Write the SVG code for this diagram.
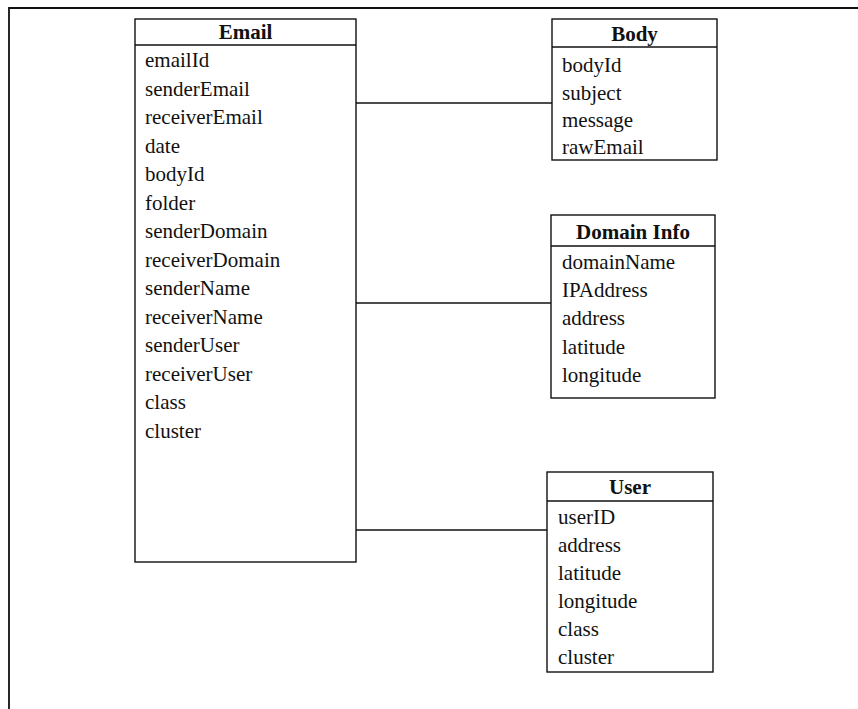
<svg xmlns="http://www.w3.org/2000/svg" width="858" height="709" viewBox="0 0 858 709">
  <style>
    .box { fill: #ffffff; stroke: #111111; stroke-width: 1.4; }
    .sep { stroke: #111111; stroke-width: 1.4; }
    .title { font-family: "Liberation Serif", "Times New Roman", serif; font-size: 21px; font-weight: bold; fill: #111111; text-anchor: middle; }
    .attr { font-family: "Liberation Serif", "Times New Roman", serif; font-size: 21px; fill: #111111; }
    .link { stroke: #111111; stroke-width: 1.4; fill: none; }
    .frame { stroke: #111111; stroke-width: 1.8; fill: none; }
  </style>
  <rect width="858" height="709" fill="#ffffff"/>

  <!-- outer frame (open to the right and bottom) -->
  <polyline class="frame" points="9,712 9,8 860,8"/>

  <!-- relationships -->
  <g id="connectors">
    <line class="link" x1="356" y1="103" x2="552" y2="103"/>
    <line class="link" x1="356" y1="303" x2="551" y2="303"/>
    <line class="link" x1="356" y1="530" x2="547" y2="530"/>
  </g>

  <g id="email">
    <rect class="box" x="135" y="19" width="221" height="543"/>
    <line class="sep" x1="135" y1="45" x2="356" y2="45"/>
    <text class="title" x="245.5" y="39">Email</text>
    <text class="attr" x="145" y="67">emailId</text>
    <text class="attr" x="145" y="95.5">senderEmail</text>
    <text class="attr" x="145" y="124">receiverEmail</text>
    <text class="attr" x="145" y="152.5">date</text>
    <text class="attr" x="145" y="181">bodyId</text>
    <text class="attr" x="145" y="209.5">folder</text>
    <text class="attr" x="145" y="238">senderDomain</text>
    <text class="attr" x="145" y="266.5">receiverDomain</text>
    <text class="attr" x="145" y="295">senderName</text>
    <text class="attr" x="145" y="323.5">receiverName</text>
    <text class="attr" x="145" y="352">senderUser</text>
    <text class="attr" x="145" y="380.5">receiverUser</text>
    <text class="attr" x="145" y="409">class</text>
    <text class="attr" x="145" y="437.5">cluster</text>
  </g>

  <g id="body">
    <rect class="box" x="552" y="19" width="165" height="141"/>
    <line class="sep" x1="552" y1="47" x2="717" y2="47"/>
    <text class="title" x="634.5" y="41">Body</text>
    <text class="attr" x="562" y="72">bodyId</text>
    <text class="attr" x="562" y="99.5">subject</text>
    <text class="attr" x="562" y="127">message</text>
    <text class="attr" x="562" y="154">rawEmail</text>
  </g>

  <g id="domain-info">
    <rect class="box" x="551" y="215" width="164" height="183"/>
    <line class="sep" x1="551" y1="246" x2="715" y2="246"/>
    <text class="title" x="633" y="239">Domain Info</text>
    <text class="attr" x="562" y="269">domainName</text>
    <text class="attr" x="562" y="297">IPAddress</text>
    <text class="attr" x="562" y="325">address</text>
    <text class="attr" x="562" y="353.5">latitude</text>
    <text class="attr" x="562" y="381.5">longitude</text>
  </g>

  <g id="user">
    <rect class="box" x="547" y="472" width="166" height="200"/>
    <line class="sep" x1="547" y1="501" x2="713" y2="501"/>
    <text class="title" x="630" y="494">User</text>
    <text class="attr" x="558" y="524">userID</text>
    <text class="attr" x="558" y="552">address</text>
    <text class="attr" x="558" y="580">latitude</text>
    <text class="attr" x="558" y="608">longitude</text>
    <text class="attr" x="558" y="636">class</text>
    <text class="attr" x="558" y="664">cluster</text>
  </g>
</svg>
